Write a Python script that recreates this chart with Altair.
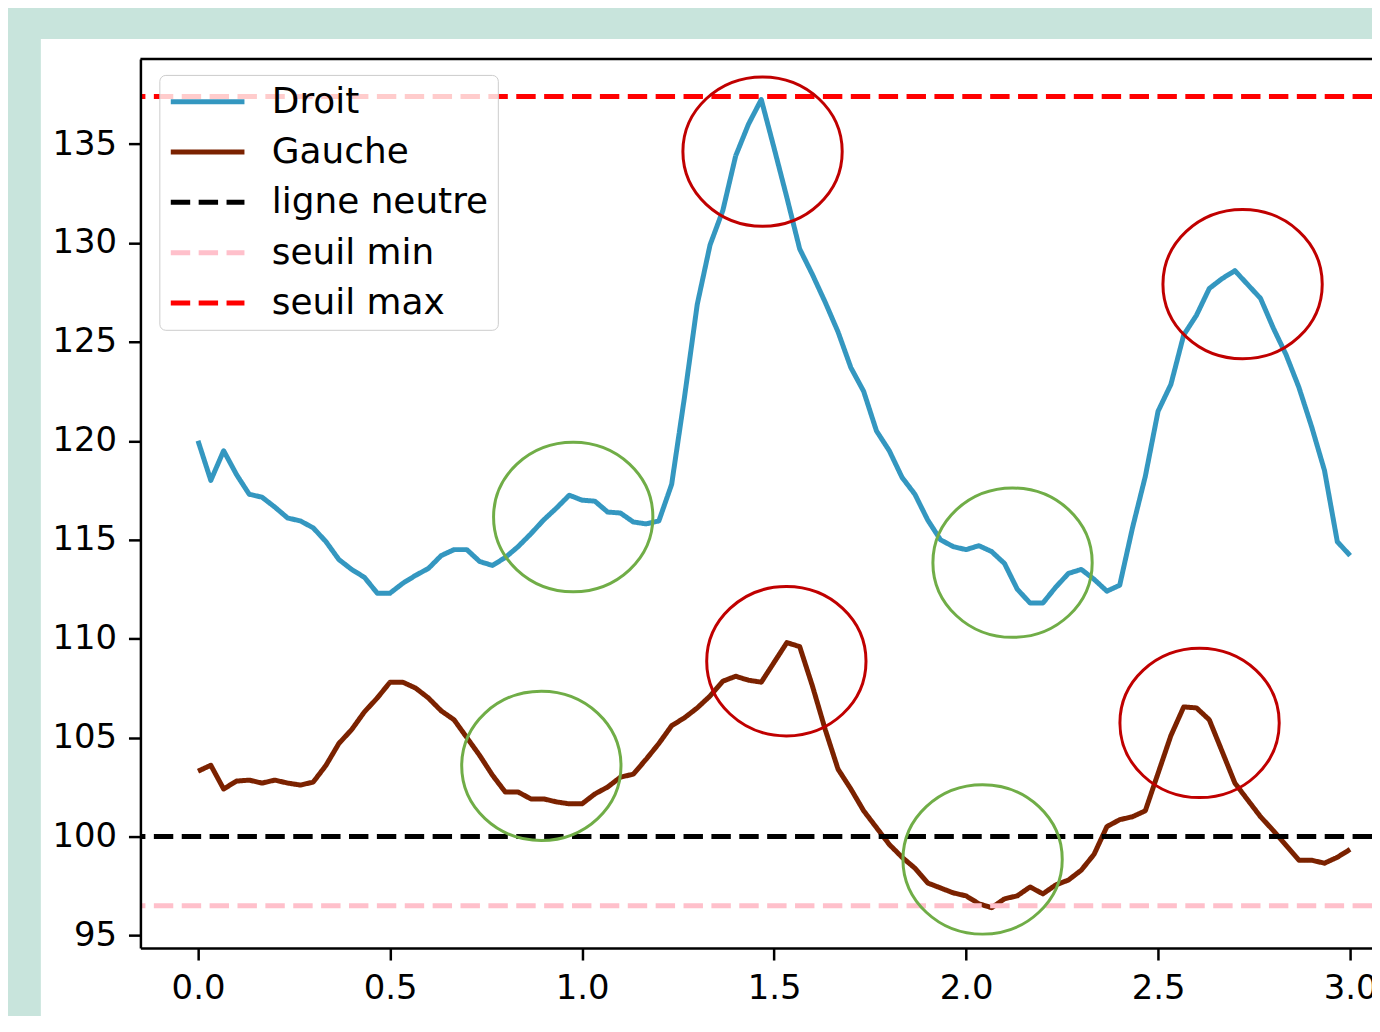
import altair as alt
import pandas as pd

temps = [round(i / 30, 4) for i in range(91)]
droit = [120.0, 118.0, 119.5, 118.3, 117.3, 117.15, 116.65, 116.1, 115.95, 115.6,
         114.9, 114.0, 113.5, 113.1, 112.3, 112.3, 112.8, 113.2, 113.55, 114.2,
         114.5, 114.5, 113.9, 113.7, 114.1, 114.65, 115.3, 116.0, 116.6, 117.25,
         117.0, 116.95, 116.4, 116.35, 115.9, 115.8, 115.95, 117.8, 122.2, 126.9,
         129.9, 131.65, 134.4, 136.0, 137.25, 134.8, 132.3, 129.7, 128.4, 127.0,
         125.5, 123.7, 122.5, 120.5, 119.5, 118.15, 117.3, 116.0, 115.0, 114.65,
         114.5, 114.7, 114.4, 113.8, 112.5, 111.8, 111.8, 112.6, 113.3, 113.5,
         113.0, 112.4, 112.7, 115.6, 118.2, 121.5, 122.85, 125.35, 126.35, 127.7,
         128.2, 128.6, 127.9, 127.2, 125.7, 124.35, 122.7, 120.7, 118.5, 114.9,
         114.2]
gauche = [103.3, 103.6, 102.4, 102.8, 102.85, 102.7, 102.85, 102.7, 102.6, 102.75,
          103.6, 104.7, 105.4, 106.3, 107.0, 107.8, 107.8, 107.5, 107.0, 106.35,
          105.9, 105.0, 104.1, 103.1, 102.25, 102.25, 101.9, 101.9, 101.75, 101.65,
          101.65, 102.15, 102.5, 103.0, 103.15, 103.9, 104.7, 105.6, 106.0, 106.5,
          107.1, 107.85, 108.1, 107.9, 107.8, 108.8, 109.8, 109.6, 107.6, 105.4,
          103.4, 102.4, 101.3, 100.45, 99.6, 98.95, 98.4, 97.65, 97.4, 97.15,
          97.0, 96.6, 96.4, 96.85, 97.0, 97.45, 97.1, 97.55, 97.8, 98.3,
          99.1, 100.5, 100.85, 101.0, 101.3, 103.2, 105.1, 106.55, 106.5, 105.9,
          104.3, 102.7, 101.85, 101.0, 100.3, 99.55, 98.8, 98.8, 98.65, 98.95,
          99.35]

seuils_noms = ["ligne neutre", "seuil min", "seuil max"]
seuils_valeurs = [100.0, 96.5, 137.4]

series = ["Droit", "Gauche", "ligne neutre", "seuil min", "seuil max"]
couleurs = ["#3497c0", "#7b2200", "#000000", "#ffc0cb", "#ff0000"]
tirets = [[1, 0], [1, 0], [19.5, 8.5], [19.5, 8.5], [19.5, 8.5]]

x_ticks = [0.0, 0.5, 1.0, 1.5, 2.0, 2.5, 3.0]
y_ticks = [95, 100, 105, 110, 115, 120, 125, 130, 135]

# hand-drawn annotation ellipses (centres in data units)
rouges_t = [1.470, 2.720, 1.532, 2.608]
rouges_v = [134.62, 127.92, 108.86, 105.74]
verts_t = [0.977, 2.121, 0.894, 2.043]
verts_v = [116.15, 113.84, 103.57, 98.84]

# ---- tables ----
df_lignes = pd.DataFrame({
    "t": temps * 2,
    "valeur": droit + gauche,
    "serie": ["Droit"] * len(droit) + ["Gauche"] * len(gauche),
})
df_seuils = pd.DataFrame({"serie": seuils_noms, "valeur": seuils_valeurs})
df_rouges = pd.DataFrame({"t": rouges_t, "valeur": rouges_v})
df_verts = pd.DataFrame({"t": verts_t, "valeur": verts_v})
df_un = pd.DataFrame({"k": [0]})

W, H = 1237, 893
FONT = "DejaVu Sans"

x_enc = alt.X("t:Q",
              scale=alt.Scale(domain=[-0.15, 3.057], nice=False, zero=False),
              axis=alt.Axis(values=x_ticks, format=".1f", title="Temps [s]",
                            labelFlush=False, zindex=1, titlePadding=12))
y_enc = alt.Y("valeur:Q",
              scale=alt.Scale(domain=[94.36, 139.3], nice=False, zero=False),
              axis=alt.Axis(values=y_ticks, format="d", title=None, zindex=1))

leg = alt.Legend(title=None, orient="none", legendX=19, legendY=16,
                 symbolType="stroke", symbolSize=5476, symbolStrokeWidth=5,
                 labelFont=FONT, labelFontSize=36, labelColor="black",
                 labelOffset=25, clipHeight=36, rowPadding=14.5, padding=9,
                 labelLimit=500,
                 fillColor="rgba(255,255,255,0.8)", strokeColor="#cccccc",
                 cornerRadius=6)
color_enc = alt.Color("serie:N", scale=alt.Scale(domain=series, range=couleurs), legend=leg)
dash_enc = alt.StrokeDash("serie:N", scale=alt.Scale(domain=series, range=tirets), legend=leg)

fond = alt.Chart(df_un).mark_rect(color="white").encode(
    x=alt.value(-100), x2=alt.value(W + 50), y=alt.value(-20), y2=alt.value(H + 200))

lignes = alt.Chart(df_lignes).mark_line(strokeWidth=5, strokeJoin="round").encode(
    x=x_enc, y=y_enc, color=color_enc, strokeDash=dash_enc, detail="serie:N")

seuils = alt.Chart(df_seuils).mark_rule(strokeWidth=5).encode(
    y=y_enc, color=color_enc, strokeDash=dash_enc)

ellipse = ("M 1 0 C 1 0.5178 0.5523 0.9375 0 0.9375 "
           "C -0.5523 0.9375 -1 0.5178 -1 0 "
           "C -1 -0.5178 -0.5523 -0.9375 0 -0.9375 "
           "C 0.5523 -0.9375 1 -0.5178 1 0 Z")

rouges = alt.Chart(df_rouges).mark_point(
    shape=ellipse, size=25600, filled=False, strokeWidth=3, opacity=1, color="#c00000"
).encode(x=x_enc, y=y_enc)
verts = alt.Chart(df_verts).mark_point(
    shape=ellipse, size=25600, filled=False, strokeWidth=3, opacity=1, color="#70ad47"
).encode(x=x_enc, y=y_enc)

spine_haut = alt.Chart(df_un).mark_rule(color="black", strokeWidth=2.5).encode(
    x=alt.value(0), x2=alt.value(W), y=alt.value(0))

chart = alt.layer(fond, lignes, seuils, rouges, verts, spine_haut).properties(
    width=W, height=H,
    background="#c8e4dc",
    padding={"left": 133, "top": 49, "right": 0, "bottom": 66},
    autosize=alt.AutoSizeParams(type="none"),
).configure_view(
    stroke="transparent"
).configure_axis(
    domainColor="black", domainWidth=2.5, tickColor="black", tickWidth=2.5,
    tickSize=12, labelPadding=12, labelFont=FONT, labelFontSize=34,
    labelColor="black", grid=False, titleFont=FONT, titleFontSize=34,
    titleColor="black", titleFontWeight="normal"
)

chart.save("out.html", embed_options={"renderer": "svg", "actions": False})
